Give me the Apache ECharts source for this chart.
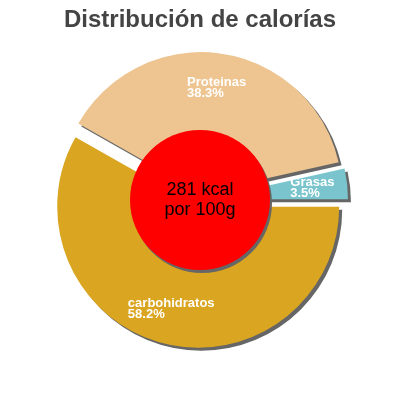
<!DOCTYPE html>
<html>
<head>
<meta charset="utf-8">
<script src="https://cdn.jsdelivr.net/npm/echarts@6/dist/echarts.min.js"></script>
<style>
  html, body { margin: 0; padding: 0; background: #fff; }
  #chart { width: 400px; height: 400px; }
</style>
</head>
<body>
<div id="chart"></div>
<script>
// datos del gráfico
var categories = ['carbohidratos', 'Proteinas', 'Grasas'];
var percents = [58.2, 38.3, 3.5];
var centerLines = ['281 kcal', 'por 100g'];
var chartTitle = 'Distribución de calorías';

var chart = echarts.init(document.getElementById('chart'));

var sliceData = categories.map(function (name, i) {
    return { name: name, value: percents[i], selected: true };
});

var option = {
    animation: false,
    color: ['#DAA520', '#EEC591', '#7AC5CD'],
    title: {
        text: chartTitle,
        left: 'center',
        top: 3,
        textStyle: {
            fontFamily: 'Liberation Sans',
            fontSize: 24,
            fontWeight: 'bold',
            color: '#444'
        }
    },
    series: [
        {
            // porciones con sombra
            type: 'pie',
            z: 2,
            center: ['50%', '50%'],
            radius: [0, 141],
            startAngle: 0,
            clockwise: true,
            selectedMode: 'multiple',
            selectedOffset: 7,
            silent: true,
            label: { show: false },
            labelLine: { show: false },
            itemStyle: {
                shadowColor: '#666',
                shadowBlur: 0,
                shadowOffsetX: 3,
                shadowOffsetY: 3
            },
            data: sliceData
        },
        {
            // círculo central
            type: 'pie',
            z: 4,
            center: ['50%', '50%'],
            radius: [0, 70],
            silent: true,
            itemStyle: {
                color: '#FF0000',
                shadowColor: '#666',
                shadowBlur: 0,
                shadowOffsetX: 2,
                shadowOffsetY: 3
            },
            labelLine: { show: false },
            label: {
                show: true,
                position: 'center',
                formatter: centerLines.join('\n'),
                color: '#000',
                fontFamily: 'Liberation Sans',
                fontSize: 18,
                lineHeight: 20
            },
            data: [{ name: 'kcal', value: 1 }]
        },
        {
            // solo etiquetas
            type: 'pie',
            z: 6,
            center: ['50%', '50%'],
            radius: [65, 141],
            startAngle: 0,
            clockwise: true,
            selectedMode: 'multiple',
            selectedOffset: 7,
            silent: true,
            avoidLabelOverlap: false,
            itemStyle: { color: 'rgba(0,0,0,0)' },
            labelLine: { show: false },
            label: {
                show: true,
                position: 'inside',
                align: 'center',
                formatter: '{n|{b}}\n{n|{c}%}',
                rich: {
                    n: {
                        align: 'left',
                        color: '#fff',
                        fontFamily: 'Liberation Sans',
                        fontSize: 13,
                        fontWeight: 'bold',
                        lineHeight: 11
                    }
                }
            },
            data: sliceData
        }
    ]
};

chart.setOption(option);
</script>
</body>
</html>
